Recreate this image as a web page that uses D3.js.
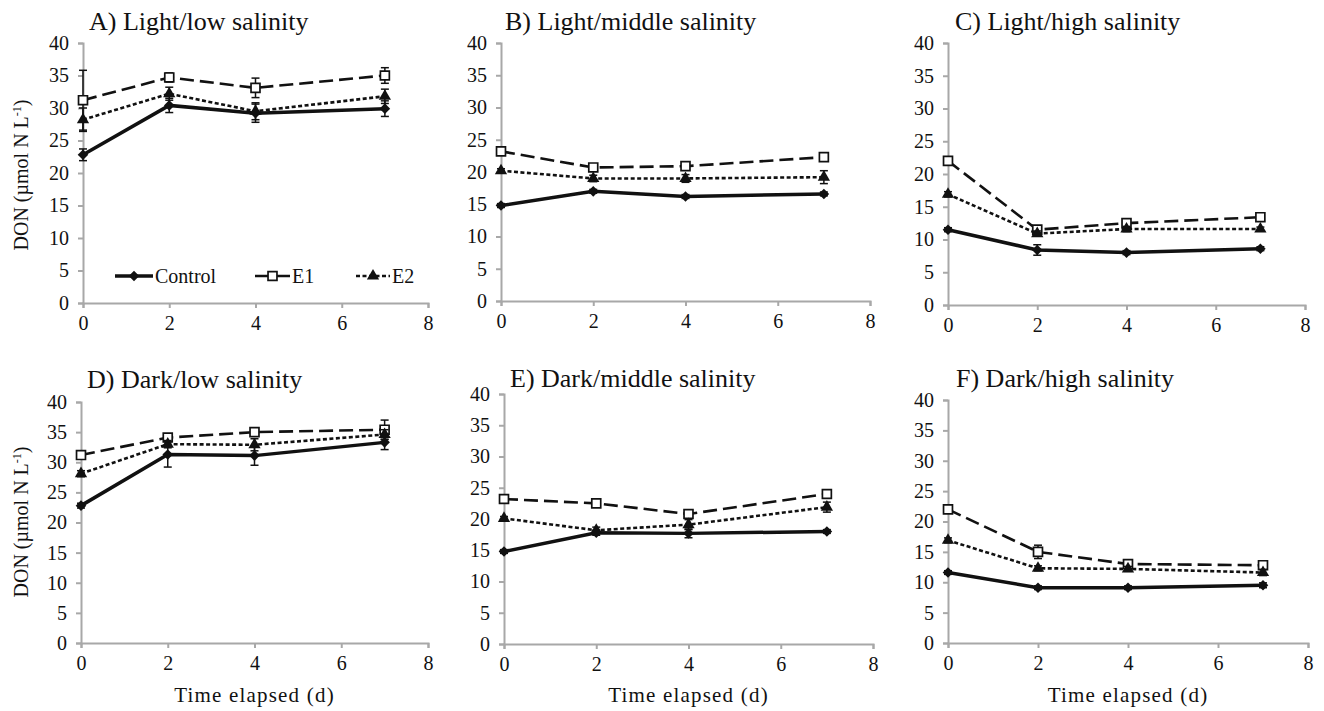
<!DOCTYPE html>
<html>
<head>
<meta charset="utf-8">
<script src="https://cdn.jsdelivr.net/npm/d3@7"></script>
<style>
body { margin: 0; background: #fff; }
text { font-family: "Liberation Serif", "Times New Roman", serif; fill: #111; }
</style>
</head>
<body>
<div id="chart"></div>
<script>
// data, panels A..F
var days = [0, 2, 4, 7];
var panelTitles = ["A) Light/low salinity", "B) Light/middle salinity", "C) Light/high salinity",
                   "D) Dark/low salinity", "E) Dark/middle salinity", "F) Dark/high salinity"];
var seriesNames = ["Control", "E1", "E2"];
var xTicks = [0, 2, 4, 6, 8];
var yTicks = [0, 5, 10, 15, 20, 25, 30, 35, 40];

var controlMean = [[22.8, 30.4, 29.2, 29.9], [14.8, 17.0, 16.2, 16.6], [11.5, 8.4, 8.0, 8.6],
                   [22.8, 31.3, 31.1, 33.3], [14.8, 17.8, 17.7, 18.0], [11.6, 9.1, 9.1, 9.5]];
var controlErr  = [[0.9, 1.1, 1.4, 1.2], [0.3, 0.3, 0.3, 0.3], [0.3, 0.8, 0.3, 0.3],
                   [0.4, 2.1, 1.6, 1.2], [0.3, 0.4, 0.7, 0.3], [0.3, 0.3, 0.3, 0.4]];
var e1Mean = [[31.2, 34.7, 33.1, 35.0], [23.2, 20.7, 20.9, 22.3], [22.0, 11.5, 12.5, 13.4],
              [31.2, 34.1, 35.0, 35.4], [23.2, 22.5, 20.8, 24.0], [22.0, 15.0, 13.0, 12.8]];
var e1Err  = [[4.6, 0.7, 1.5, 1.2], [0.4, 0.4, 0.5, 0.4], [0.4, 0.5, 0.3, 0.4],
              [0.4, 0.4, 0.3, 1.6], [0.4, 0.3, 0.4, 0.5], [0.4, 1.1, 0.4, 0.5]];
var e2Mean = [[28.2, 32.2, 29.5, 31.8], [20.2, 19.0, 19.0, 19.2], [16.9, 10.9, 11.6, 11.6],
              [28.1, 33.0, 32.9, 34.6], [20.1, 18.2, 19.1, 21.9], [16.9, 12.3, 12.2, 11.6]];
var e2Err  = [[1.8, 1.0, 1.3, 1.1], [0.3, 0.5, 0.6, 1.0], [0.4, 0.4, 0.4, 0.3],
              [0.5, 0.6, 1.0, 0.8], [0.3, 0.5, 0.8, 0.8], [0.4, 0.4, 0.4, 0.5]];

var W = 1324, H = 711;
var svg = d3.select("#chart").append("svg")
  .attr("width", W)
  .attr("height", H);

// plot boxes for each panel (left, right, top, bottom) + title anchor
var boxes = [
  {l: 83,  r: 428,  t: 43,  b: 303, tx: 89,  ty: 30},
  {l: 501, r: 870,  t: 43,  b: 301, tx: 505, ty: 30},
  {l: 948, r: 1305, t: 43,  b: 305, tx: 955, ty: 30},
  {l: 81,  r: 428,  t: 402, b: 643, tx: 87,  ty: 388},
  {l: 504, r: 873,  t: 394, b: 644, tx: 510, ty: 387},
  {l: 948, r: 1308, t: 400, b: 643, tx: 956, ty: 387}
];

var lineStyle = {
  Control: {width: 3.5, dash: null},
  E1: {width: 2.6, dash: "14,6"},
  E2: {width: 2.6, dash: "4,2.5"}
};

function drawMarker(g, name, x, y) {
  if (name === "Control") {
    g.append("path")
      .attr("d", d3.symbol().type(d3.symbolSquare).size(56)())
      .attr("transform", "translate(" + x + "," + y + ") rotate(45)")
      .attr("fill", "#111");
  } else if (name === "E1") {
    g.append("path")
      .attr("d", d3.symbol().type(d3.symbolSquare).size(80)())
      .attr("transform", "translate(" + x + "," + y + ")")
      .attr("fill", "#fff")
      .attr("stroke", "#111")
      .attr("stroke-width", 1.7);
  } else {
    g.append("path")
      .attr("d", d3.symbol().type(d3.symbolTriangle).size(65)())
      .attr("transform", "translate(" + x + "," + y + ")")
      .attr("fill", "#111");
  }
}

boxes.forEach(function(bx, p) {
  var x = d3.scaleLinear().domain([0, 8]).range([bx.l, bx.r]);
  var y = d3.scaleLinear().domain([0, 40]).range([bx.b, bx.t]);
  var g = svg.append("g");

  // axes
  var ax = g.append("g")
    .attr("transform", "translate(0," + bx.b + ")")
    .call(d3.axisBottom(x).tickValues(xTicks).tickSize(5).tickPadding(8));
  var ay = g.append("g")
    .attr("transform", "translate(" + bx.l + ",0)")
    .call(d3.axisLeft(y).tickValues(yTicks).tickSize(5).tickPadding(9));
  [ax, ay].forEach(function(a) {
    a.selectAll("path, line").attr("stroke", "#a8a8a8").attr("stroke-width", 2);
    a.selectAll("text")
      .style("font-family", "'Liberation Serif', 'Times New Roman', serif")
      .style("font-size", "20px")
      .attr("fill", "#111");
  });

  // title
  g.append("text")
    .attr("x", bx.tx)
    .attr("y", bx.ty)
    .style("font-size", "26px")
    .text(panelTitles[p]);

  var allSeries = [
    {name: "E1", mean: e1Mean[p], err: e1Err[p]},
    {name: "E2", mean: e2Mean[p], err: e2Err[p]},
    {name: "Control", mean: controlMean[p], err: controlErr[p]}
  ];

  allSeries.forEach(function(s) {
    var pts = days.map(function(d, i) { return {d: d, v: s.mean[i], e: s.err[i]}; });
    var line = d3.line().x(function(d) { return x(d.d); }).y(function(d) { return y(d.v); });
    g.append("path")
      .datum(pts)
      .attr("d", line)
      .attr("fill", "none")
      .attr("stroke", "#111")
      .attr("stroke-width", lineStyle[s.name].width)
      .attr("stroke-dasharray", lineStyle[s.name].dash);

    // error bars
    pts.forEach(function(d) {
      var cx = x(d.d);
      g.append("line")
        .attr("x1", cx).attr("x2", cx)
        .attr("y1", y(d.v - d.e)).attr("y2", y(d.v + d.e))
        .attr("stroke", "#111").attr("stroke-width", 1.5);
      [d.v - d.e, d.v + d.e].forEach(function(v) {
        g.append("line")
          .attr("x1", cx - 4).attr("x2", cx + 4)
          .attr("y1", y(v)).attr("y2", y(v))
          .attr("stroke", "#111").attr("stroke-width", 1.5);
      });
    });
    pts.forEach(function(d) { drawMarker(g, s.name, x(d.d), y(d.v)); });
  });
});

// y axis titles
[{cy: 175}, {cy: 522}].forEach(function(t) {
  var lab = svg.append("text")
    .attr("transform", "translate(28," + t.cy + ") rotate(-90)")
    .attr("text-anchor", "middle")
    .style("font-size", "20px");
  lab.append("tspan").text("DON (\u00b5mol N L");
  lab.append("tspan").attr("baseline-shift", "super").style("font-size", "12px").text("-1");
  lab.append("tspan").text(")");
});

// x axis titles under the bottom row
boxes.slice(3).forEach(function(bx) {
  svg.append("text")
    .attr("x", (bx.l + bx.r) / 2)
    .attr("y", 702)
    .attr("text-anchor", "middle")
    .style("font-size", "21px")
    .style("letter-spacing", "1.2px")
    .text("Time elapsed (d)");
});

// legend inside panel A
var legendItems = [
  {name: "Control", x1: 115, x2: 153},
  {name: "E1", x1: 255, x2: 290},
  {name: "E2", x1: 356, x2: 390}
];
var ly = 276;
var lg = svg.append("g");
legendItems.forEach(function(it) {
  lg.append("line")
    .attr("x1", it.x1).attr("x2", it.x2)
    .attr("y1", ly).attr("y2", ly)
    .attr("stroke", "#111")
    .attr("stroke-width", lineStyle[it.name].width)
    .attr("stroke-dasharray", it.name === "E2" ? lineStyle.E2.dash : null);
  drawMarker(lg, it.name, (it.x1 + it.x2) / 2, ly);
  lg.append("text")
    .attr("x", it.x2 + 2)
    .attr("y", ly + 7)
    .style("font-size", "20px")
    .text(it.name);
});
</script>
</body>
</html>
